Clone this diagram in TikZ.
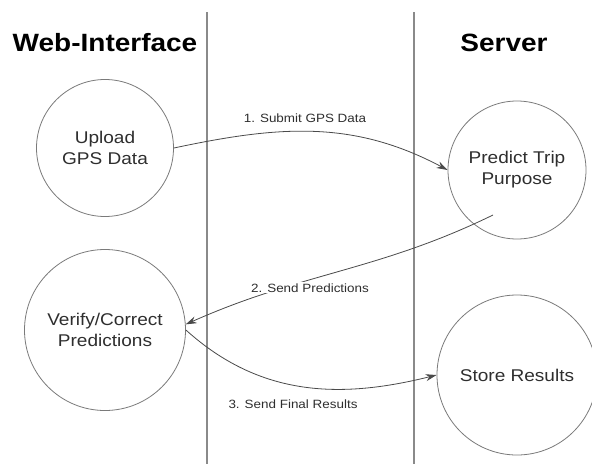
\documentclass[tikz,border=0pt]{standalone}
\usepackage{fontspec}
\setmainfont[FakeStretch=1.12]{Liberation Sans}
\usetikzlibrary{arrows.meta}
\definecolor{circgray}{HTML}{7A7A7A}
\definecolor{linegray}{HTML}{8A8A8A}
\definecolor{arrgray}{HTML}{4A4A4A}
\definecolor{txtgray}{HTML}{2E2E2E}
\tikzset{
  proc/.style={circle, draw=circgray, line width=0.8pt, inner sep=0pt, align=center,
    text=txtgray, font=\fontsize{17}{21}\selectfont},
  header/.style={anchor=base, font=\fontsize{25}{30}\selectfont\bfseries, text=black},
  elabel/.style={anchor=base, font=\fontsize{12}{14}\selectfont, text=txtgray, inner sep=1pt},
  flow/.style={draw=arrgray, line width=0.8pt, -{Stealth[length=11pt,width=7pt]}},
  lane/.style={draw=linegray, line width=1.3pt}
}
\begin{document}
\begin{tikzpicture}[x=1pt,y=-1pt]
\useasboundingbox (0,0) rectangle (592,464);
% lane separators
\coordinate (l1t) at (207,12); \coordinate (l1b) at (207,464);
\coordinate (l2t) at (414,12); \coordinate (l2b) at (414,464);
\draw[lane] (l1t) -- (l1b);
\draw[lane] (l2t) -- (l2b);
% headers
\node[header] (hweb) at (105,51) {Web-Interface};
\node[header] (hsrv) at (504,51) {Server};
% processes
\node[proc, minimum size=137pt] (up) at (105,148) {Upload\\GPS Data};
\node[proc, minimum size=138pt] (pr) at (517,170) {Predict Trip\\Purpose};
\node[proc, minimum size=161pt] (vc) at (105,330) {Verify/Correct\\Predictions};
\node[proc, minimum size=160pt] (st) at (517,375) {Store Results};
% connectors
\coordinate (s2) at (493,215);
\draw[flow] (up.east) to[out=12,in=152] (pr.west);
\draw[flow] (s2) to[out=206,in=24] (vc.4);
\draw[flow] (vc.east) to[out=-42,in=194] (st.west);
% labels
\node[elabel] (lab1) at (305,122) {1. Submit GPS Data};
\node[elabel, fill=white] (lab2) at (310,292) {2. Send Predictions};
\node[elabel] (lab3) at (293,408) {3. Send Final Results};
\end{tikzpicture}
\end{document}
